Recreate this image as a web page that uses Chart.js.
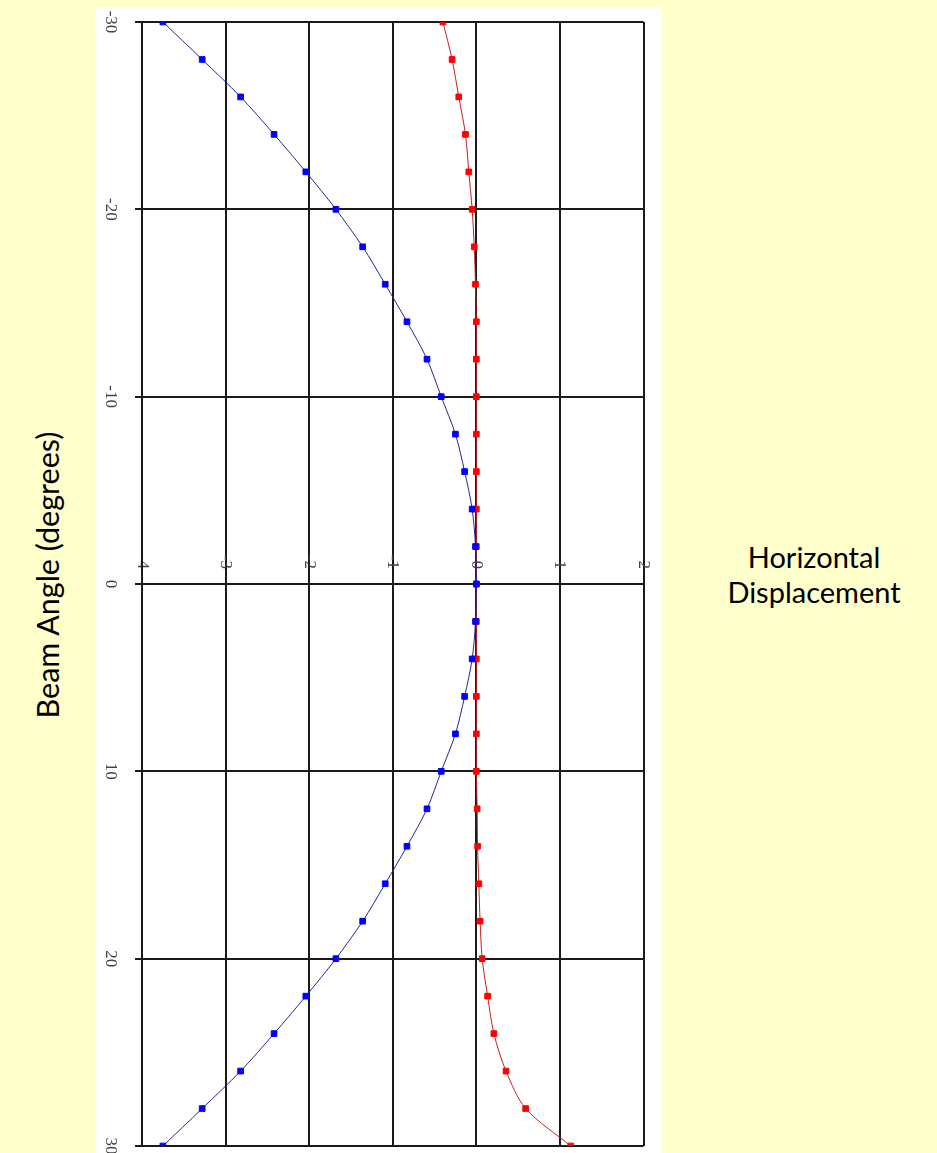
<!DOCTYPE html>
<html>
<head>
<meta charset="utf-8">
<script src="https://cdn.jsdelivr.net/npm/chart.js@4.4.1/dist/chart.umd.min.js"></script>
<style>
  html, body { margin: 0; padding: 0; width: 937px; height: 1153px; overflow: hidden; background: #ffffcc; }
  #frame { position: absolute; left: 95px; top: 7px; width: 567px; height: 1170px; background: #ffffff; }
  #angleTitle {
    position: absolute; left: 47px; top: 575px; white-space: nowrap;
    transform: translate(-50%, -50%) rotate(-90deg);
    font: 30.5px Lato, sans-serif; color: #000;
  }
  #dispTitle {
    position: absolute; left: 814px; top: 574px; white-space: nowrap;
    transform: translate(-50%, -50%); text-align: center;
    font: 29px/35px Lato, sans-serif; color: #000;
  }
</style>
</head>
<body>
<div id="frame"><canvas id="beamChart"></canvas></div>
<div id="angleTitle">Beam Angle (degrees)</div>
<div id="dispTitle">Horizontal<br>Displacement</div>

<script>
// Beam angle (degrees), one point every 2 degrees
const angles = [-30, -28, -26, -24, -22, -20, -18, -16, -14, -12, -10, -8, -6, -4, -2, 0,
  2, 4, 6, 8, 10, 12, 14, 16, 18, 20, 22, 24, 26, 28, 30];

// Horizontal displacement
const blueDisp = [-3.75, -3.28, -2.82, -2.42, -2.04, -1.68, -1.36, -1.09, -0.83, -0.59, -0.42, -0.25, -0.14, -0.05, -0.01, 0,
  -0.01, -0.05, -0.14, -0.25, -0.42, -0.59, -0.83, -1.09, -1.36, -1.68, -2.04, -2.42, -2.82, -3.28, -3.75];
const redDisp = [-0.40, -0.29, -0.21, -0.13, -0.09, -0.05, -0.025, -0.01, 0, 0, 0, 0, 0, 0, 0, 0,
  0, 0, 0, 0, 0, 0.01, 0.015, 0.03, 0.045, 0.07, 0.135, 0.21, 0.355, 0.59, 1.13];

const toPoints = (vals) => vals.map((v, i) => ({ x: v, y: angles[i] }));

const gridColor = "#1a1a1a";
const tickFont = { family: "'Liberation Serif', 'Times New Roman', serif", size: 17 };
const tickColor = "#444";

const ctx = document.getElementById("beamChart").getContext("2d");
const chart = new Chart(ctx, {
  type: "scatter",
  data: {
    datasets: [
      {
        label: "Blue",
        data: toPoints(blueDisp),
        showLine: true,
        borderColor: "#26269a",
        borderWidth: 1,
        tension: 0.3,
        pointStyle: "rect",
        pointRadius: 4,
        pointBorderWidth: 1,
        pointBackgroundColor: "#0000ff",
        pointBorderColor: "#0000ff",
      },
      {
        label: "Red",
        data: toPoints(redDisp),
        showLine: true,
        borderColor: "#c42020",
        borderWidth: 1,
        tension: 0.3,
        pointStyle: "rect",
        pointRadius: 4,
        pointBorderWidth: 1,
        pointBackgroundColor: "#ff0000",
        pointBorderColor: "#ff0000",
      },
    ],
  },
  options: {
    responsive: true,
    maintainAspectRatio: false,
    animation: false,
    layout: { padding: { top: 15, right: 18.5, bottom: 31, left: 0 } },
    plugins: {
      legend: { display: false },
      tooltip: { enabled: false },
    },
    scales: {
      x: {
        type: "linear",
        position: { y: 0 },
        min: -4,
        max: 2,
        ticks: { stepSize: 1, minRotation: -90, maxRotation: -90, padding: -15, font: tickFont, color: tickColor },
        grid: { color: gridColor, lineWidth: 2, drawTicks: false },
        border: { color: gridColor, width: 2 },
        afterFit: (scale) => {
          scale.height = 0;
          scale.paddingLeft = 0;
          scale.paddingRight = 0;
        },
      },
      y: {
        type: "linear",
        position: "left",
        reverse: true,
        min: -30,
        max: 30,
        ticks: { stepSize: 10, minRotation: -90, maxRotation: -90, crossAlign: "center", padding: 13, font: tickFont, color: tickColor },
        grid: { color: gridColor, lineWidth: 2, tickLength: 7 },
        border: { color: gridColor, width: 2 },
        afterFit: (scale) => {
          scale.width = 47;
          scale.paddingTop = 0;
          scale.paddingBottom = 0;
        },
      },
    },
  },
});
</script>
</body>
</html>
